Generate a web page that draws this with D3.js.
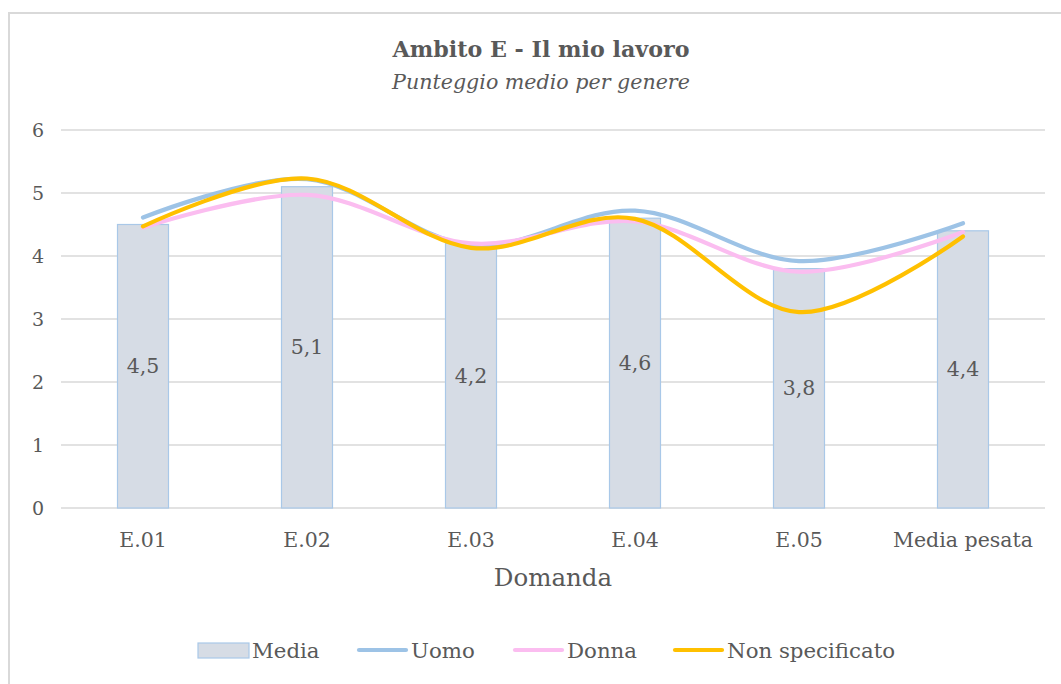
<!DOCTYPE html>
<html>
<head>
<meta charset="utf-8">
<script src="https://cdn.jsdelivr.net/npm/d3@7"></script>
<style>
  body { margin: 0; background: #fff; }
  svg text { font-family: 'DejaVu Serif', 'Liberation Serif', serif; fill: #595959; }
</style>
</head>
<body>
<div id="chart"></div>
<script>
const categories = ['E.01', 'E.02', 'E.03', 'E.04', 'E.05', 'Media pesata']
const media = [4.5, 5.1, 4.2, 4.6, 3.8, 4.4]
const uomo = [4.61, 5.22, 4.17, 4.72, 3.92, 4.52]
const donna = [4.45, 4.97, 4.2, 4.55, 3.75, 4.38]
const nonSpecificato = [4.47, 5.23, 4.13, 4.59, 3.11, 4.31]
const yTicks = [0, 1, 2, 3, 4, 5, 6]

const width = 1061
const height = 684
const margin = { top: 130, left: 61, right: 16, bottom: 176 }

const svg = d3.select('#chart')
  .append('svg')
  .attr('width', width)
  .attr('height', height)

// chart frame
svg.append('rect')
  .attr('x', 9)
  .attr('y', 13)
  .attr('width', width + 10)
  .attr('height', height + 10)
  .attr('fill', 'none')
  .attr('stroke', '#d9d9d9')
  .attr('stroke-width', 2)

const x = d3.scaleBand()
  .domain(categories)
  .range([margin.left, width - margin.right])

const y = d3.scaleLinear()
  .domain([0, 6])
  .range([height - margin.bottom, margin.top])

// gridlines
svg.append('g')
  .selectAll('line')
  .data(yTicks)
  .enter()
  .append('line')
  .attr('x1', margin.left)
  .attr('x2', width - margin.right)
  .attr('y1', d => y(d))
  .attr('y2', d => y(d))
  .attr('stroke', '#d9d9d9')
  .attr('stroke-width', 1.3)

// y-axis labels
const yAxis = d3.axisLeft(y).tickValues(yTicks).tickFormat(d3.format('d')).tickSize(0).tickPadding(17)
svg.append('g')
  .attr('transform', `translate(${margin.left}, 0)`)
  .call(yAxis)
  .call(g => g.select('.domain').remove())
  .selectAll('text')
  .attr('font-size', 19)

// x-axis labels
const xAxis = d3.axisBottom(x).tickSize(0).tickPadding(24)
svg.append('g')
  .attr('transform', `translate(0, ${y(0)})`)
  .call(xAxis)
  .call(g => g.select('.domain').remove())
  .selectAll('text')
  .attr('font-size', 20.5)

// bars
const barWidth = 51
svg.append('g')
  .selectAll('rect')
  .data(media)
  .enter()
  .append('rect')
  .attr('x', (d, i) => x(categories[i]) + x.bandwidth() / 2 - barWidth / 2)
  .attr('y', d => y(d))
  .attr('width', barWidth)
  .attr('height', d => y(0) - y(d))
  .attr('fill', '#d6dce5')
  .attr('stroke', '#a9c8e8')
  .attr('stroke-width', 1.2)

// bar labels
svg.append('g')
  .selectAll('text')
  .data(media)
  .enter()
  .append('text')
  .attr('x', (d, i) => x(categories[i]) + x.bandwidth() / 2)
  .attr('y', d => (y(d) + y(0)) / 2)
  .attr('text-anchor', 'middle')
  .attr('dominant-baseline', 'central')
  .attr('font-size', 20.5)
  .text(d => d.toFixed(1).replace('.', ','))

// lines
const series = [
  { label: 'Uomo', values: uomo, color: '#9dc3e6' },
  { label: 'Donna', values: donna, color: '#fbbdf0' },
  { label: 'Non specificato', values: nonSpecificato, color: '#ffc000' }
]

const line = d3.line()
  .x((d, i) => x(categories[i]) + x.bandwidth() / 2)
  .y(d => y(d))
  .curve(d3.curveCardinal.tension(0))

svg.append('g')
  .selectAll('path')
  .data(series)
  .enter()
  .append('path')
  .attr('fill', 'none')
  .attr('stroke', d => d.color)
  .attr('stroke-width', 4.2)
  .attr('stroke-linecap', 'round')
  .attr('d', d => line(d.values))

// titles
svg.append('text')
  .attr('x', 541)
  .attr('y', 57)
  .attr('text-anchor', 'middle')
  .attr('font-size', 22.2)
  .attr('font-weight', 'bold')
  .text('Ambito E - Il mio lavoro')

svg.append('text')
  .attr('x', 541)
  .attr('y', 89)
  .attr('text-anchor', 'middle')
  .attr('font-size', 20.6)
  .attr('font-style', 'italic')
  .text('Punteggio medio per genere')

svg.append('text')
  .attr('x', 553)
  .attr('y', 586)
  .attr('text-anchor', 'middle')
  .attr('font-size', 24.5)
  .text('Domanda')

// legend
const legendItems = [
  { label: 'Media', type: 'bar', color: '#d6dce5', x: 198 },
  { label: 'Uomo', type: 'line', color: '#9dc3e6', x: 357 },
  { label: 'Donna', type: 'line', color: '#fbbdf0', x: 513 },
  { label: 'Non specificato', type: 'line', color: '#ffc000', x: 673 }
]
const legendY = 650
const legend = svg.append('g')
  .selectAll('g')
  .data(legendItems)
  .enter()
  .append('g')
  .attr('transform', d => `translate(${d.x}, ${legendY})`)

legend.filter(d => d.type === 'bar')
  .append('rect')
  .attr('x', 0)
  .attr('y', -7)
  .attr('width', 51)
  .attr('height', 15)
  .attr('fill', '#d6dce5')
  .attr('stroke', '#a9c8e8')
  .attr('stroke-width', 1.2)

legend.filter(d => d.type === 'line')
  .append('line')
  .attr('x1', 2)
  .attr('x2', 49)
  .attr('y1', 0)
  .attr('y2', 0)
  .attr('stroke', d => d.color)
  .attr('stroke-width', 4.2)
  .attr('stroke-linecap', 'round')

legend.append('text')
  .attr('x', 54)
  .attr('y', 0)
  .attr('dominant-baseline', 'central')
  .attr('font-size', 21.3)
  .text(d => d.label)
</script>
</body>
</html>
